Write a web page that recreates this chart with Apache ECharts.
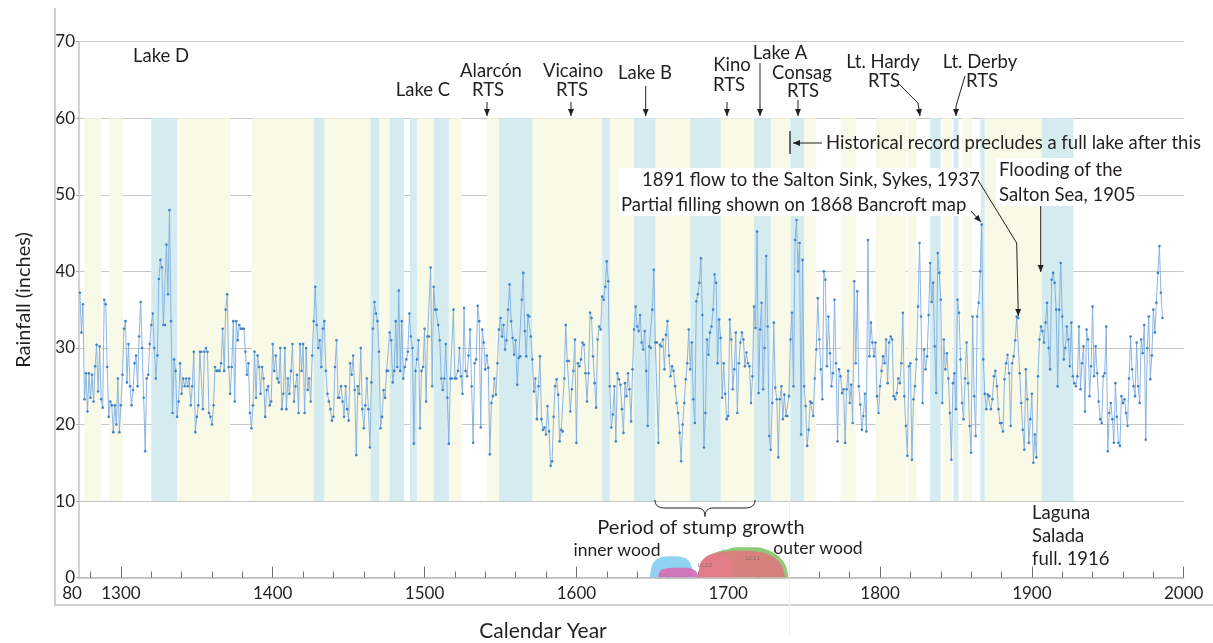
<!DOCTYPE html>
<html><head><meta charset="utf-8">
<script src="https://cdn.jsdelivr.net/npm/echarts@6/dist/echarts.min.js"></script>
<style>html,body{margin:0;padding:0;background:#fff}#c{width:1213px;height:643px}</style>
</head><body><div id="c"></div>
<script>
// ---- Annual rainfall (inches), in segments ----
const startA = 1273;
const rainA = [37.2, 32, 35.7, 23.3, 26.7, 21.7, 26.7,
  23.5, 26.5, 23, 27.6, 30.4, 24.3, 30.2, 23.3, 22.2, 36.3,
  35.7, 27.5, 21, 23, 22.5, 19, 22.5, 20, 26, 19,
  22.5, 26.5, 32.5, 33.5, 25.5, 30.5, 25, 22.5, 24.5, 28,
  29, 25, 31.5, 36, 30, 23.5, 16.5, 26, 26.5, 30.5,
  33, 34.5, 30, 26, 29, 39, 41.5, 40.5, 33, 33,
  43.5, 37, 48, 33.5, 21.5, 28.5, 27, 21, 23, 28,
  24, 26, 25, 26, 25, 26, 22.5, 25, 29.5, 19,
  21, 22.5, 29.5, 29.5, 22, 29.5, 30, 29.5, 21.5, 21,
  20, 22.5, 27.5, 27, 27, 27, 28, 32.5, 27, 35,
  37, 27.5, 24, 27.5, 33.5, 23, 33.5, 31, 33, 32.5,
  32.5, 32.5, 29.5, 26.5, 28, 21.5, 19.5, 22.5, 29.5, 23.5,
  29, 27.5, 24, 27.5, 26, 21, 24.5, 25, 22.5, 23];
const startB = 1400;
const rainB = [30.5, 27, 29, 26, 25.5, 30, 22, 24, 30, 22,
  26, 24, 27, 30.5, 23, 25, 26.5, 21.5, 30.5, 27,
  30.5, 21.5, 30, 24.5, 26, 23, 29, 33.5, 38, 33,
  30, 31, 27.5, 32.5, 33.5, 27, 24, 23, 22, 20.5,
  21, 27.5, 31, 23.5, 23.5, 25, 23, 21, 25, 22,
  20.5, 28, 26.5, 29, 24.5, 16, 25, 24, 30, 22,
  19.5, 22.5, 26, 22, 17, 25.5, 32.5, 36, 34.5, 33.5,
  29.5, 19.5, 21, 24.5, 23.5, 27, 27, 32, 31, 25.5,
  27, 33.5, 27.5, 37.5, 27, 33.5, 26, 27.5, 28.5, 29.5,
  34.5, 31.5, 30, 17.5, 27, 28.5, 31, 19.5, 27, 27.5,
  32.5, 23, 31.5, 31.5, 40.5, 25, 38, 35, 35, 33,
  31, 26, 24.5, 26, 30.5, 23.5, 17.5, 26, 26, 35,
  26, 26, 27, 30];
const startC = 1524;
const rainC = [26.3, 24, 35.2, 27, 26.3, 29,
  32.4, 25, 17.6, 28, 28.5, 35.5, 33.5, 19.6, 32.4, 30.7,
  27.2, 29, 27.4, 16.1, 22.8, 23.7, 26, 23.9, 28, 32.4,
  33.9, 31.5, 33, 29.8, 31, 35, 38.3, 33.5, 31.3, 29.1,
  31, 25.2, 28.7, 28.9, 36.3, 39.8, 32.2, 28.9, 34.3, 34.1,
  31.5, 28.5, 24.3, 26, 20.7, 25, 28.9, 20.7, 19.3, 19.6,
  18.7, 22.4, 19.1, 14.6, 15.2, 21, 25, 25.9, 23.9, 17.8,
  19.3, 19.1, 26, 33, 28.3, 28.3, 21.7, 24.6, 27, 31.1,
  17.6, 28, 27.6, 28.5, 30.7, 30.4, 26.7, 23, 26.7, 34.6,
  33.9, 28.9, 25.4, 22.2, 31.1, 32.8, 32.4, 36.7, 36.3, 38,
  41.3, 38.7, 25, 19.6, 21.3, 25, 17.8, 26.7, 25.9, 25.2,
  22, 18.9, 25.4, 23.7, 26.7, 24.6, 20.4, 27.2, 32.4, 35.4,
  32.8, 32.2, 34.3, 30.7, 29.8, 32.2, 27, 19.8, 30.2, 30,
  35, 40.2, 30.7, 30.7, 17.6, 30.4, 30.2, 31.1, 27.2, 31.7,
  33.5, 29, 26.3, 27.6, 27, 25, 22.8, 21.5, 18.9, 15.2,
  20, 22.8, 25.9, 28, 32.4, 27.2, 30.7, 23.3, 20.2, 36.1,
  37, 38.5, 41.7, 34.3, 17, 21.5, 31.1, 29.1, 32, 32.8,
  35, 39.6, 38.5, 28, 33.7, 31.3, 23.5, 28, 24, 20.7,
  21.1, 33.7, 31.1, 24.6, 27.2, 32, 21.5, 28, 30.7, 32,
  31.1, 27.6, 29.4, 28];
const startD = 1714;
const rainD = [27.6, 22.8, 26.3, 35.4, 32.6, 45.2, 24.1, 32.4, 35.9, 24.6, 30,
  42, 32.8, 18.5, 16.7, 22.8, 33.3, 24.8, 23.3, 15.7, 23.3, 25,
  20.7, 23.9, 21.1, 21.1, 23.7, 31.1, 34.6, 25, 44.1, 46.7, 40,
  43.7, 18.7, 41.5, 25, 22.4, 17.2, 19.3, 23, 22.8, 21.1, 26,
  29.8, 36.5, 31.1, 27.2, 23.3, 40, 38.9, 27.6, 34.1, 29.3, 25,
  26.7, 36.3, 28, 17.8, 27.2, 26.3, 24.1, 24.6, 17.6, 24.6, 27,
  22.8, 25.2, 20.2, 38.7, 28, 37.4, 25, 22.6, 19.3, 21.1, 24,
  19.1, 44.1, 28.9, 33.3, 30.7, 28.9, 30.7, 23.7, 21.5, 25, 27,
  28.9, 28, 31.1, 25.4, 30.7, 31.5, 31.1, 23.7, 23.3, 24.1, 26,
  25.4, 28, 34.6, 23.7, 19.8, 15.9, 27.6, 28, 15.4, 23.3, 25,
  28.5, 35.4, 43.7, 34.1, 22.8, 29.8, 27.2, 28.9, 34.3, 41.1, 36,
  38.5, 30.2, 24.1, 42.4, 39.8, 36.3, 22.8, 31.1, 27.2, 29.3, 26,
  21.5, 15.4, 25.4, 26.7, 22, 36.3, 34.6, 28.5, 22.8, 20.7, 26,
  30.7, 25.4, 19.8, 16.3, 34.1, 23.7, 18.5, 34.1, 35.9, 40,
  46.1, 28.5, 24, 22, 23.9, 23.7, 22, 23.3, 26.3, 27, 25, 22, 20.2];
const startE = 1880;
const rainE = [20.2, 19.1, 25.9, 28, 29.1, 26.7, 19.8, 28, 28.9, 31, 34.1, 33.9,
  26.7, 22.8, 19.3, 16.7, 27.2, 23.3, 17.6, 20.7, 24, 15,
  18.7, 15.7, 26.3, 31.1, 32.8, 32.2, 30.7, 33.3, 35.9, 30,
  27.2, 38.9, 39.8, 38.5, 35, 25, 35, 41.1, 34.1, 28.5, 30,
  32.8, 31.1, 27.6, 33.3, 26.3, 25.4, 25, 26.3, 32.8, 24.6, 28,
  30.2, 21.7, 32.4, 31.1, 23.7, 27.6, 35.4, 26.3, 30.2, 26.7, 23,
  20.7, 20.2, 26.3, 26.7, 32.8, 16.5, 21.5, 22.8, 20.7, 17.6, 25.4, 21,
  17.6, 17.2, 23.7, 22.8, 23.3, 21.5, 19.8, 26,
  31.5, 27.2, 25, 23.7, 30.7, 25, 22.8, 31.1, 29.3, 33, 18, 30, 34.1, 25.9, 29,
  35, 32, 35.9, 39.8, 43.3, 37.2, 33.9];

// ---- Lake-stand shading bands [startYear, endYear] ----
const yellowBands = [[1276,1287],[1292,1301.5],[1337,1372],[1386,1427],[1434,1464.5],[1470,1477],
  [1495,1506],[1516,1524.5],[1541,1549],[1571,1617],[1622,1638],[1652,1675],[1695,1717],
  [1728,1741],[1750,1758],[1774,1784],[1797,1817],[1818,1824],[1841,1847.5],[1854,1860.5],[1869,1906.5]];
const cyanBands = [[1320,1337],[1427,1434],[1464.5,1470],[1477,1486.5],[1490.4,1495],[1506,1516],
  [1549,1571],[1617,1622],[1638,1652],[1675,1695],[1717,1728],[1741,1750],[1833,1840],
  [1848.3,1851.6],[1866,1869],[1906.5,1927.4]];
const bandLow = 10, bandHigh = 60;

// ---- Stump-age distributions [year, height] ----
const blobBlue = [[1648.5,0],[1649.3,1.2],[1651,2.0],[1654,2.5],[1658,2.75],[1664,2.8],[1670,2.65],[1673.5,2.3],[1675.5,1.6],[1676.7,0.8],[1677,0]];
const blobMagenta = [[1653.8,0],[1655,0.8],[1658,1.15],[1665,1.3],[1672,1.28],[1677,1.05],[1679.5,0.6],[1680.4,0]];
const blobGreen = [[1681.5,0],[1682.5,1.5],[1686,2.6],[1692,3.3],[1700,3.75],[1708,3.95],[1716,3.95],[1724,3.75],[1730,3.2],[1735,2.4],[1738,1.5],[1739.5,0]];
const blobPink = [[1680.4,0],[1681.3,1.4],[1684,2.4],[1689,2.85],[1695,2.9],[1700,2.75],[1702.5,2.2],[1703.2,0]];
const blobRed = [[1680.4,0],[1681.2,1.5],[1684,2.5],[1690,3.1],[1698,3.4],[1708,3.5],[1718,3.4],[1726,3.05],[1731,2.5],[1735,1.7],[1737.5,0]];

// ---- Axis ticks ----
const xLabelYears = [1300,1400,1500,1600,1700,1800,1900,2000];
const xMinorYears = [1280,1320,1340,1360,1380,1420,1440,1460,1480,1520,1540,1560,1580,1620,1640,1660,1680,
  1720,1740,1760,1780,1820,1840,1860,1880,1920,1940,1960,1980];

function seg(start, vals){ return vals.map((v,i)=>[start+i, v]); }
const series = [].concat(seg(startA,rainA), seg(startB,rainB), seg(startC,rainC), seg(startD,rainD), seg(startE,rainE));
const bands = yellowBands.map(b=>[b[0],b[1],bandLow,bandHigh,0]).concat(cyanBands.map(b=>[b[0],b[1],bandLow,bandHigh,1]));

const F = 'Lato, "Noto Sans", sans-serif';
const INK = '#231f20';
const chart = echarts.init(document.getElementById('c'));

function T(t, x, y, size, align, extra){
  return Object.assign({type:'text', z:100, style:{text:t, x:x, y:y, font:size+'px '+F, fill:INK, align:align||'center', verticalAlign:'middle'}}, extra||{});
}
function L(points, color, w){ return {type:'polyline', z:100, shape:{points:points}, style:{stroke:color||INK, lineWidth:w||1, fill:null}}; }
function H(from, to, len, half){
  len = len||7; half = half||3;
  const dx=to[0]-from[0], dy=to[1]-from[1], d=Math.hypot(dx,dy), ux=dx/d, uy=dy/d;
  const bx=to[0]-ux*len, by=to[1]-uy*len;
  return {type:'polygon', z:101, shape:{points:[[to[0],to[1]],[bx-uy*half,by+ux*half],[bx+uy*half,by-ux*half]]}, style:{fill:INK}};
}
function A(points){ const n=points.length; return [L(points), H(points[n-2], points[n-1])]; }
function R(x,y,w,h){ return {type:'rect', z:99, shape:{x:x,y:y,width:w,height:h}, style:{fill:'#fff'}}; }
function quad(p0,p1,p2){ const out=[]; for(let i=0;i<=8;i++){ const t=i/8, a=(1-t)*(1-t), b=2*(1-t)*t, c=t*t; out.push([a*p0[0]+b*p1[0]+c*p2[0], a*p0[1]+b*p1[1]+c*p2[1]]); } return out; }
const brace = [].concat(quad([655,500],[655,508],[665,508]), quad([697,508],[705,508],[705,516.5]),
  quad([705,516.5],[705,508],[713,508]), quad([745,508],[755,508],[755,500]));

const S = 18.5, M = 18.5;
const graphics = [].concat(
  [L([[55,8],[55,605],[1213,605]], '#cfcfcf', 2)],
  [L([[789.5,500],[789.5,636]], '#ececec', 1)],
  [T('Rainfall (inches)', 0, 0, 20, 'center', {x:24, y:300, rotation:Math.PI/2})],
  [T('Calendar Year', 543, 631, 21)],
  [T('80', 72, 594, 17)],
  [T('Lake D', 161, 56, S), T('Lake C', 423, 90, S),
   T('Alarcón', 491, 71, S), T('RTS', 488, 90, S),
   T('Vicaino', 573, 71, S), T('RTS', 572, 90, S),
   T('Lake B', 645, 73, S),
   T('Kino', 732, 65, S), T('RTS', 729, 85, S),
   T('Lake A', 780, 53, S),
   T('Consag', 802, 73, S), T('RTS', 803, 91, S),
   T('Lt. Hardy', 883, 62, S), T('RTS', 884, 81, S),
   T('Lt. Derby', 980, 62, S), T('RTS', 982, 81, S)],
  A([[487,102],[487,116]]), A([[571,102],[571,116]]), A([[645.7,86],[645.7,116]]),
  A([[727,102],[727,116]]), A([[760,63],[760,116]]), A([[798,100],[798,116]]),
  A([[898,83],[918,103],[920,116]]), A([[965,76],[956,106],[956,116]]),
  [L([[790,131],[790,154]], INK, 1.3)], A([[822,143],[793,143]]),
  [T('Historical record precludes a full lake after this', 826, 143, M, 'left')],
  [R(619,168,362,48), T('1891 flow to the Salton Sink, Sykes, 1937', 642, 180, M, 'left'),
   T('Partial filling shown on 1868 Bancroft map', 621, 205, M, 'left')],
  A([[978,180],[1016.7,243],[1018.3,316]]),
  A([[971,211],[981,222]]),
  [R(996,158,142,48), T('Flooding of the', 999, 170, M, 'left'), T('Salton Sea, 1905', 999, 195, M, 'left')],
  A([[1040.7,206],[1040.7,272]]),
  [T('Laguna', 1032, 513, S, 'left'), T('Salada', 1032, 536, S, 'left'), T('full. 1916', 1032, 559, S, 'left')],
  [L(brace, INK, 1)],
  [T('Period of stump growth', 701, 528, 20), T('inner wood', 617, 550, 17.5), T('outer wood', 818, 548, 17.5)],
  [T('LC12', 705, 565, 6, 'center', {z:110}), T('LC11', 753, 558, 6, 'center', {z:110})]
);
graphics.forEach(g=>{ if(g.type==='text' && (g.style.text==='LC12'||g.style.text==='LC11')) g.style.fill='#8a6a70'; });

function blob(data, color){
  return {type:'line', data:data, smooth:0.5, symbol:'none', z:2, silent:true,
    lineStyle:{width:0}, areaStyle:{color:color, opacity:1}};
}

chart.setOption({
  animation:false,
  backgroundColor:'#fff',
  grid:{left:79, right:29.3, top:41.7, bottom:65.4, containLabel:false},
  xAxis:[
    {type:'value', min:1272.4, max:2000, position:'bottom',
     axisLine:{show:true, lineStyle:{color:'#b9b9b9', width:1.5}},
     axisTick:{show:true, inside:true, length:11, lineStyle:{color:'#6f6f6f', width:1}, customValues:xLabelYears},
     axisLabel:{show:true, customValues:xLabelYears, formatter:function(v){ return String(v); }, fontFamily:F, fontSize:17, color:INK, margin:7},
     splitLine:{show:false}},
    {type:'value', min:1272.4, max:2000, position:'bottom',
     axisLine:{show:false},
     axisTick:{show:true, inside:true, length:6, lineStyle:{color:'#6f6f6f', width:1}, customValues:xMinorYears},
     axisLabel:{show:false}, splitLine:{show:false}}
  ],
  yAxis:{type:'value', min:0, max:70, interval:10,
    axisLine:{show:true, lineStyle:{color:'#c4c4c4', width:1.5}},
    axisTick:{show:true, length:3, lineStyle:{color:'#aaa'}},
    axisLabel:{fontFamily:F, fontSize:17, color:INK, margin:4},
    splitLine:{show:true, lineStyle:{color:'#c6c6c6', width:1.2}}},
  series:[
    {type:'custom', data:bands, z:1, silent:true, encode:{x:[0,1], y:[2,3]},
     renderItem:function(params, api){
       const p1 = api.coord([api.value(0), api.value(3)]);
       const p2 = api.coord([api.value(1), api.value(2)]);
       return {type:'rect', shape:{x:p1[0], y:p1[1], width:p2[0]-p1[0], height:p2[1]-p1[1]},
         style:{fill: api.value(4)===0 ? '#f8f9e6' : '#d4ecef'}};
     }},
    blob(blobBlue, '#8fd2f2'),
    blob(blobMagenta, 'rgba(214,110,182,0.92)'),
    blob(blobGreen, '#8fcb78'),
    blob(blobPink, 'rgba(244,160,200,0.9)'),
    blob(blobRed, 'rgba(224,118,126,0.88)'),
    {type:'line', data:series, z:5, showAllSymbol:true, symbol:'circle', symbolSize:2.6,
     lineStyle:{color:'#7eaedf', width:0.9}, itemStyle:{color:'#3f82c8'}, silent:true}
  ],
  graphic:graphics
});
</script></body></html>
